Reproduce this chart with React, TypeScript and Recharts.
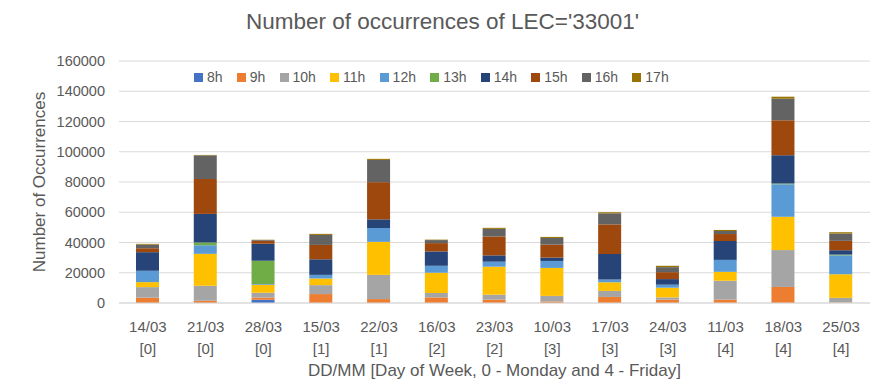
import React from 'react';
import { BarChart, Bar, XAxis, YAxis, CartesianGrid, Legend } from 'recharts';

const categories = ['14/03', '21/03', '28/03', '15/03', '22/03', '16/03', '23/03', '10/03', '17/03', '24/03', '11/03', '18/03', '25/03'];
const weekdays = ['0', '0', '0', '1', '1', '2', '2', '3', '3', '3', '4', '4', '4'];

const h8 = [0, 0, 2200, 0, 0, 0, 0, 0, 0, 0, 0, 0, 0];
const h9 = [3500, 1500, 1500, 5900, 2600, 3700, 2200, 1000, 4000, 2200, 2200, 10600, 300];
const h10 = [7000, 9900, 3100, 5900, 16000, 2900, 3300, 3700, 4000, 1500, 12500, 24400, 3100];
const h11 = [3300, 21100, 5300, 4400, 21800, 13400, 18500, 18500, 5700, 6400, 5900, 22000, 15600];
const h12 = [7500, 5700, 500, 2400, 9200, 4600, 3300, 4600, 1800, 2000, 7900, 21500, 12500];
const h13 = [0, 1800, 15400, 0, 0, 0, 0, 0, 0, 0, 0, 500, 500];
const h14 = [12300, 18900, 11200, 10300, 5700, 9500, 4200, 2200, 16900, 3700, 12500, 18700, 2900];
const h15 = [2600, 23100, 2000, 9500, 24600, 5500, 12500, 8600, 19600, 4600, 4600, 23100, 6200];
const h16 = [2400, 15600, 500, 6600, 14700, 2000, 5000, 4400, 7300, 3300, 2000, 14300, 4800];
const h17 = [500, 300, 200, 700, 700, 300, 700, 700, 700, 900, 700, 1300, 900];

const seriesNames = ['8h', '9h', '10h', '11h', '12h', '13h', '14h', '15h', '16h', '17h'];
const seriesValues = [h8, h9, h10, h11, h12, h13, h14, h15, h16, h17];
const seriesColors = ['#4472C4', '#ED7D31', '#A5A5A5', '#FFC000', '#5B9BD5', '#70AD47', '#264478', '#9E480E', '#636363', '#997300'];

const yTicks = [0, 20000, 40000, 60000, 80000, 100000, 120000, 140000, 160000];

const data = categories.map((c, i) => {
  const row: Record<string, string | number> = { cat: c, day: weekdays[i] };
  seriesNames.forEach((n, k) => {
    row[n] = seriesValues[k][i];
  });
  return row;
});

const FONT = '"Liberation Sans", Arial, sans-serif';
const TXT = '#595959';

const XTick = (props: any) => {
  const { x, y, payload, index } = props;
  const day = weekdays[index] ?? '';
  return (
    <g transform={`translate(${x},${y})`}>
      <text textAnchor="middle" fill={TXT} fontSize={15} fontFamily={FONT}>
        <tspan x={0} dy={29}>{payload.value}</tspan>
        <tspan x={0} dy={22}>[{day}]</tspan>
      </text>
    </g>
  );
};

const LegendContent = () => (
  <div style={{ display: 'flex', alignItems: 'center', fontFamily: FONT, fontSize: 14, color: TXT, gap: 14.2 }}>
    {seriesNames.map((n, i) => (
      <div key={n} style={{ display: 'flex', alignItems: 'center' }}>
        <span style={{ display: 'inline-block', width: 9, height: 9, background: seriesColors[i], marginRight: 4 }} />
        <span>{n}</span>
      </div>
    ))}
  </div>
);

export default function App() {
  return (
    <div style={{ position: 'absolute', left: 0, top: 0, width: 885, height: 383, background: '#fff' }}>
      <BarChart
        width={885}
        height={383}
        data={data}
        margin={{ top: 61, right: 15, bottom: 30, left: 30 }}
        barSize={23}
      >
        <CartesianGrid vertical={false} stroke="#d9d9d9" />
        <XAxis
          dataKey="cat"
          height={50}
          tickLine={false}
          tickSize={0}
          tickMargin={0}
          axisLine={{ stroke: '#d9d9d9' }}
          tick={<XTick />}
          interval={0}
        />
        <YAxis
          width={89}
          domain={[0, 160000]}
          ticks={yTicks}
          axisLine={false}
          tickLine={false}
          tickSize={0}
          tickMargin={14}
          tick={{ fill: TXT, fontSize: 14.5, fontFamily: FONT }}
        />
        <Legend
          layout="horizontal"
          verticalAlign="middle"
          align="center"
          content={<LegendContent />}
          wrapperStyle={{ top: 69, left: 194, width: 520, height: 18 }}
        />
        {seriesNames.map((n, i) => (
          <Bar key={n} dataKey={n} stackId="a" fill={seriesColors[i]} isAnimationActive={false} />
        ))}
      </BarChart>
      <div style={{ position: 'absolute', left: 0, width: 885, top: 8, textAlign: 'center', fontFamily: FONT, fontSize: 22.5, color: TXT, lineHeight: '28px' }}>
        Number of occurrences of LEC='33001'
      </div>
      <div style={{ position: 'absolute', left: 119, width: 751, top: 360, textAlign: 'center', fontFamily: FONT, fontSize: 17, color: TXT, lineHeight: '22px' }}>
        DD/MM [Day of Week, 0 - Monday and 4 - Friday]
      </div>
      <div style={{ position: 'absolute', left: 40 - 120, top: 182 - 11, width: 240, height: 22, textAlign: 'center', fontFamily: FONT, fontSize: 17, color: TXT, lineHeight: '22px', transform: 'rotate(-90deg)', transformOrigin: '50% 50%' }}>
        Number of Occurrences
      </div>
    </div>
  );
}
